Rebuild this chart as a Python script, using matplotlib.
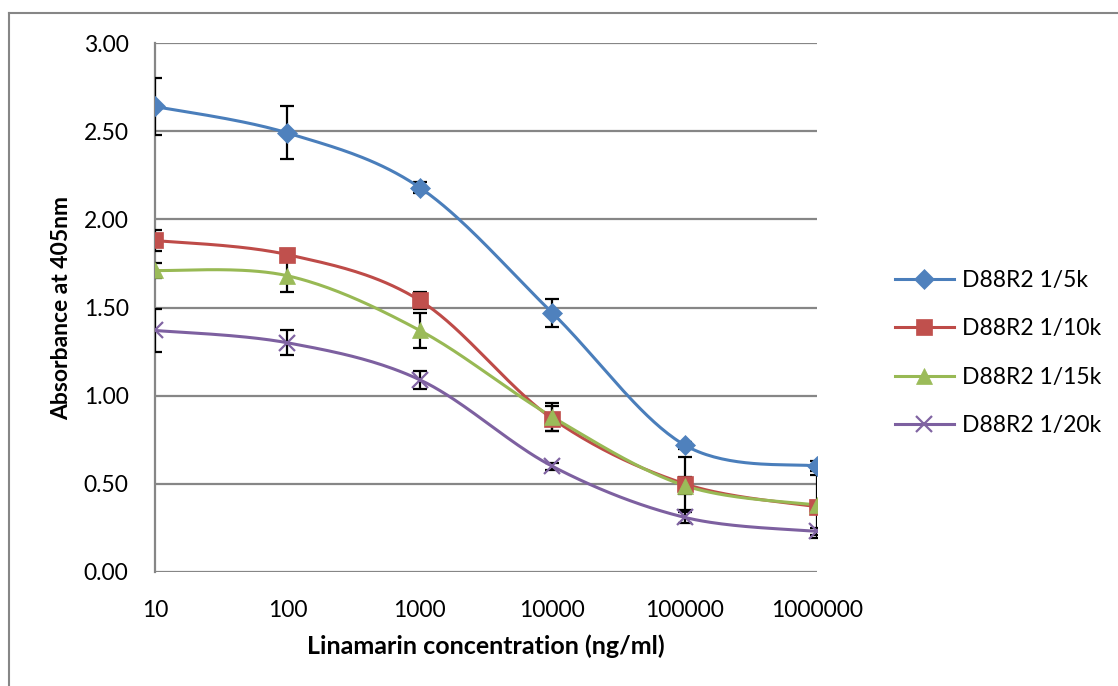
import numpy as np
import matplotlib
matplotlib.use("Agg")
import matplotlib.pyplot as plt
from matplotlib.lines import Line2D

plt.rcParams['font.family'] = ['Lato', 'DejaVu Sans']

# data
conc = [10, 100, 1000, 10000, 100000, 1000000]
names = ["D88R2 1/5k", "D88R2 1/10k", "D88R2 1/15k", "D88R2 1/20k"]
abs_5k = [2.64, 2.49, 2.18, 1.47, 0.72, 0.60]
abs_10k = [1.88, 1.80, 1.54, 0.87, 0.50, 0.37]
abs_15k = [1.71, 1.68, 1.37, 0.88, 0.49, 0.38]
abs_20k = [1.37, 1.30, 1.09, 0.60, 0.31, 0.23]
err_5k = [0.16, 0.15, 0.03, 0.08, 0.02, 0.03]
err_10k = [0.06, 0.03, 0.05, 0.07, 0.15, 0.18]
err_15k = [0.04, 0.09, 0.10, 0.08, 0.05, 0.02]
err_20k = [0.12, 0.07, 0.05, 0.02, 0.03, 0.02]

series = [abs_5k, abs_10k, abs_15k, abs_20k]
errors = [err_5k, err_10k, err_15k, err_20k]
line_colors = ["#4A7EBB", "#BE4B48", "#98B954", "#7D60A0"]
marker_colors = ["#4F81BD", "#C0504D", "#9BBB59", "#8064A2"]
markers = ["D", "s", "^", "x"]
msizes = [10, 11.5, 11.5, 11.5]


def smooth(ax, xs, ys, n=40):
    # excel-like smoothed line, built in display space
    pts = ax.transData.transform(np.column_stack([xs, ys]))
    p = np.vstack([pts[0], pts, pts[-1]])
    out = []
    for i in range(1, len(p) - 2):
        p0, p1, p2, p3 = p[i - 1], p[i], p[i + 1], p[i + 2]
        c1 = p1 + (p2 - p0) / 6
        c2 = p2 - (p3 - p1) / 6
        t = np.linspace(0, 1, n)[:, None]
        seg = (1 - t) ** 3 * p1 + 3 * (1 - t) ** 2 * t * c1 + 3 * (1 - t) * t ** 2 * c2 + t ** 3 * p2
        out.append(seg)
    out = np.vstack(out)
    return ax.transData.inverted().transform(out)


fig = plt.figure(figsize=(11.18, 6.86), dpi=100)
ax = fig.add_axes([155 / 1118, 1 - 572 / 686, (817 - 155) / 1118, (572 - 43) / 686])
ax.set_xscale("log")
ax.set_xlim(10, 1000000)
ax.set_ylim(0, 3.0)
ax.set_yticks(np.arange(0, 3.01, 0.5))
ax.set_yticklabels(["%.2f" % v for v in np.arange(0, 3.01, 0.5)])
ax.set_xticks(conc)
ax.set_xticklabels([str(c) for c in conc])
ax.minorticks_off()
ax.tick_params(length=0, labelsize=16.5, pad=20)
ax.tick_params(axis="y", pad=19)
ax.grid(axis="y", color="#868686", lw=1.6)
for s in ["top", "right", "bottom"]:
    ax.spines[s].set_visible(False)
ax.spines["left"].set_color("#868686")
ax.spines["left"].set_linewidth(1.6)
ax.set_axisbelow(True)

for ys, es, lc, mc, mk, ms, nm in zip(series, errors, line_colors, marker_colors, markers, msizes, names):
    ax.errorbar(conc, ys, yerr=es, fmt="none", ecolor="black", elinewidth=1.6, capsize=5, capthick=1.6, zorder=3)
    sm = smooth(ax, conc, ys)
    ax.plot(sm[:, 0], sm[:, 1], color=lc, lw=2.2, zorder=4, solid_capstyle="round")
    ax.plot(conc, ys, ls="none", marker=mk, color=mc, ms=ms, mew=1.6 if mk == "x" else 0.5,
            mec=mc, zorder=5)
    ax.plot([], [], color=lc, lw=2.2, marker=mk, mfc=mc, mec=mc, ms=ms,
            mew=1.6 if mk == "x" else 0.5, label=nm)

ax.set_xlabel("Linamarin concentration (ng/ml)", fontsize=18, fontweight="bold", labelpad=10)
ax.set_ylabel("Absorbance at 405nm", fontsize=16.5, fontweight="bold", labelpad=8)

leg = fig.legend(loc="center left", bbox_to_anchor=(874 / 1118, 1 - 353 / 686), frameon=False,
                 fontsize=16.5, handlelength=2.6, labelspacing=1.2, handletextpad=0.35)

# outer chart border
fig.add_artist(Line2D([9 / 1118, 9 / 1118], [0, 1 - 13 / 686], color="#868686", lw=1.5))
fig.add_artist(Line2D([9 / 1118, 1], [1 - 13 / 686, 1 - 13 / 686], color="#868686", lw=1.5))

fig.savefig("out.png", dpi=100)
